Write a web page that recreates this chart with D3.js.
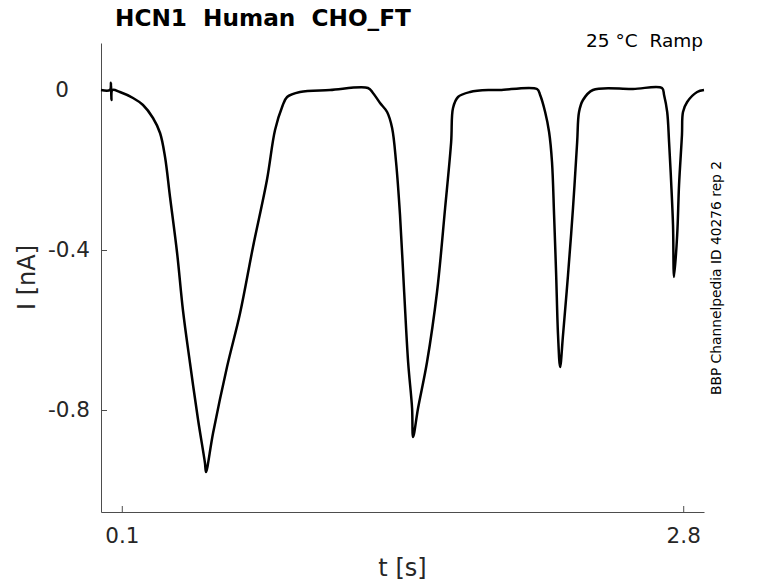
<!DOCTYPE html>
<html>
  <head>
    <meta charset="utf-8" />
    <script src="https://d3js.org/d3.v7.min.js"></script>
    <title>HCN1 Human CHO_FT</title>
    <style>
      body {
        margin: 0px;
        background: white;
        font-family: 'DejaVu Sans', sans-serif;
      }
      text {
        white-space: pre;
      }
      .axis path,
      .axis line {
        stroke: #4d4d4d;
      }
      .axis text {
        fill: #262626;
        font-size: 21.5px;
        font-family: 'DejaVu Sans', sans-serif;
      }
      .label {
        fill: #262626;
        font-size: 24px;
      }
    </style>
  </head>
  <body>
    <script>
      // trace (time in s, current in nA)
      const timeS = [
        0, 0.043, 0.048, 0.05, 0.055, 0.091, 0.154, 0.202, 0.25, 0.284,
        0.308, 0.332, 0.366, 0.394, 0.428, 0.467, 0.5, 0.505, 0.539, 0.606,
        0.669, 0.731, 0.798, 0.837, 0.871, 0.895, 0.957, 1.101, 1.284, 1.308,
        1.342, 1.376, 1.4, 1.419, 1.438, 1.458, 1.477, 1.496, 1.501, 1.525,
        1.568, 1.616, 1.655, 1.684, 1.693, 1.717, 1.775, 1.871, 1.919, 2.097,
        2.112, 2.136, 2.155, 2.169, 2.179, 2.189, 2.198, 2.208, 2.222, 2.246,
        2.27, 2.29, 2.299, 2.318, 2.366, 2.559, 2.698, 2.708, 2.723, 2.732,
        2.742, 2.751, 2.756, 2.771, 2.78, 2.794, 2.799, 2.819, 2.867, 2.9,
      ];
      const currentNA = [
        0, 0, 0.018, -0.025, 0, -0.005, -0.02, -0.0375, -0.07, -0.1075,
        -0.1675, -0.2675, -0.4075, -0.55, -0.6825, -0.825, -0.9325, -0.955, -0.8575, -0.6925,
        -0.5575, -0.3925, -0.225, -0.1, -0.0425, -0.0175, -0.005, 0, 0.005, -0.0075,
        -0.0325, -0.055, -0.095, -0.18, -0.3125, -0.505, -0.68, -0.795, -0.8675, -0.795,
        -0.68, -0.505, -0.295, -0.13, -0.045, -0.0175, -0.005, 0, 0, 0.0025,
        -0.0125, -0.055, -0.105, -0.18, -0.3125, -0.4625, -0.6125, -0.6925, -0.6125, -0.4625,
        -0.295, -0.13, -0.055, -0.025, 0, 0.0025, 0.005, -0.0125, -0.055, -0.13,
        -0.23, -0.3375, -0.4675, -0.3625, -0.2375, -0.1125, -0.055, -0.03, -0.005, 0,
      ];
      const xTicks = [0.1, 2.8];
      const yTicks = [0, -0.4, -0.8];
      const yTickLabels = ['0', '-0.4', '-0.8'];
      const title = 'HCN1  Human  CHO_FT';
      const condition = '25 °C  Ramp';
      const sideNote = 'BBP Channelpedia ID 40276 rep 2';

      const width = 778;
      const height = 583;
      const margin = { left: 101, right: 74, top: 43, bottom: 71 };
      const innerWidth = width - margin.left - margin.right;
      const innerHeight = height - margin.top - margin.bottom;

      const svg = d3
        .select('body')
        .append('svg')
        .attr('width', width)
        .attr('height', height);

      const g = svg
        .append('g')
        .attr('transform', `translate(${margin.left},${margin.top})`);

      const xScale = d3.scaleLinear().domain([0, 2.9]).range([0, innerWidth]);
      const yScale = d3
        .scaleLinear()
        .domain([-1.055, 0.1175])
        .range([innerHeight, 0]);

      // MATLAB style: ticks point inward, no box
      const xAxis = d3
        .axisBottom(xScale)
        .tickValues(xTicks)
        .tickSizeInner(-6)
        .tickSizeOuter(0)
        .tickPadding(16)
        .tickFormat(d3.format('.1f'));
      const yAxis = d3
        .axisLeft(yScale)
        .tickValues(yTicks)
        .tickSizeInner(-6)
        .tickSizeOuter(0)
        .tickPadding(11)
        .tickFormat((d, i) => yTickLabels[i]);

      g.append('g')
        .attr('class', 'axis')
        .attr('transform', `translate(0,${innerHeight})`)
        .call(xAxis);
      const yAxisG = g.append('g').attr('class', 'axis').call(yAxis);
      // the zero label sits a bit left of the others in the original
      yAxisG
        .selectAll('.tick text')
        .filter((d) => d === 0)
        .attr('dx', -21);

      const trace = timeS.map((t, i) => ({ t, v: currentNA[i] }));
      const line = d3
        .line()
        .curve(d3.curveCatmullRom.alpha(0.5))
        .x((d) => xScale(d.t))
        .y((d) => yScale(d.v));

      g.append('path')
        .attr('d', line(trace))
        .attr('fill', 'none')
        .attr('stroke', 'black')
        .attr('stroke-width', 2.5)
        .attr('stroke-linejoin', 'round');

      svg
        .append('text')
        .attr('class', 'label')
        .attr('x', margin.left + innerWidth / 2)
        .attr('y', 576)
        .attr('text-anchor', 'middle')
        .text('t [s]');

      svg
        .append('text')
        .attr('class', 'label')
        .attr('transform', `translate(35,${margin.top + innerHeight / 2}) rotate(-90)`)
        .attr('text-anchor', 'middle')
        .text('I [nA]');

      svg
        .append('text')
        .attr('x', 115)
        .attr('y', 26)
        .style('font-size', '23.2px')
        .style('font-weight', 'bold')
        .attr('fill', 'black')
        .text(title);

      svg
        .append('text')
        .attr('x', 703)
        .attr('y', 47)
        .attr('text-anchor', 'end')
        .style('font-size', '18.5px')
        .attr('fill', 'black')
        .text(condition);

      svg
        .append('text')
        .attr('transform', 'translate(721,278) rotate(-90)')
        .attr('text-anchor', 'middle')
        .style('font-size', '13.8px')
        .attr('fill', 'black')
        .text(sideNote);
    </script>
  </body>
</html>
